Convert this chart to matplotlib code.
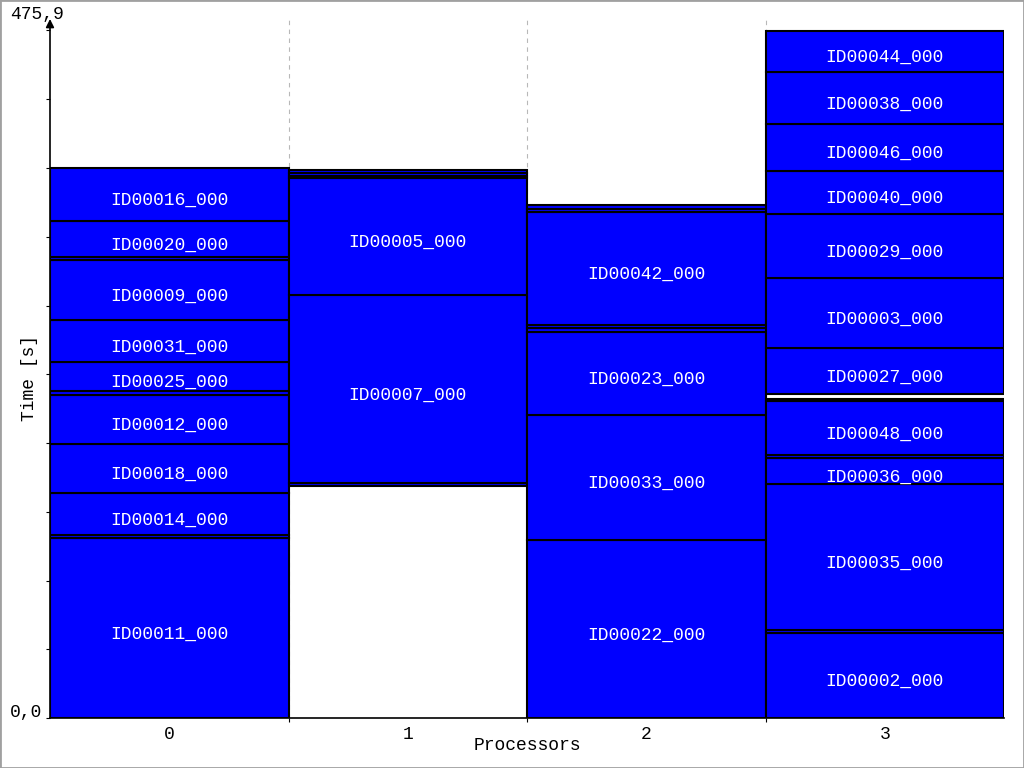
import matplotlib
matplotlib.use("Agg")
import matplotlib.pyplot as plt
from matplotlib.patches import Rectangle

T_MAX = 475.9

# task blocks per processor: label, start [s], end [s]  ("" = tiny unlabeled task)
proc0_labels = ["ID00011_000", "", "ID00014_000", "ID00018_000", "ID00012_000", "",
                "ID00025_000", "ID00031_000", "ID00009_000", "", "ID00020_000", "ID00016_000"]
proc0_starts = [0.0, 124.6, 127.0, 155.8, 189.7, 223.6, 226.4, 246.4, 275.5, 317.0, 319.1, 344.0]
proc0_ends = [124.6, 127.0, 155.8, 189.7, 223.6, 226.4, 246.4, 275.5, 317.0, 319.1, 344.0, 380.7]

proc1_labels = ["", "ID00007_000", "ID00005_000", "", "", ""]
proc1_starts = [160.6, 162.7, 292.8, 373.8, 375.2, 377.3]
proc1_ends = [162.7, 292.8, 373.8, 375.2, 377.3, 379.3]

proc2_labels = ["ID00022_000", "ID00033_000", "ID00023_000", "", "", "ID00042_000", "", ""]
proc2_starts = [0.0, 123.2, 209.8, 267.2, 270.0, 272.0, 350.3, 352.3]
proc2_ends = [123.2, 209.8, 267.2, 270.0, 272.0, 350.3, 352.3, 355.1]

proc3_labels = ["ID00002_000", "", "ID00035_000", "ID00036_000", "", "ID00048_000", "",
                "ID00027_000", "ID00003_000", "ID00029_000", "ID00040_000", "ID00046_000",
                "ID00038_000", "ID00044_000"]
proc3_starts = [0.0, 58.8, 60.9, 162.0, 180.0, 182.1, 219.4, 224.3, 256.1, 304.6, 348.9,
                378.7, 411.2, 447.2]
proc3_ends = [58.8, 60.9, 162.0, 180.0, 182.1, 219.4, 220.8, 256.1, 304.6, 348.9, 378.7,
              411.2, 447.2, 475.9]

processors = [
    (proc0_labels, proc0_starts, proc0_ends),
    (proc1_labels, proc1_starts, proc1_ends),
    (proc2_labels, proc2_starts, proc2_ends),
    (proc3_labels, proc3_starts, proc3_ends),
]
proc_names = ["0", "1", "2", "3"]

FONT = ["Liberation Mono", "DejaVu Sans Mono"]
FS = 13


def main() -> None:
    plt.rcParams["font.family"] = FONT
    fig = plt.figure(figsize=(10.24, 7.68), dpi=100)
    ax = fig.add_axes([50 / 1024, 50 / 768, 954 / 1024, 699 / 768])
    ax.set_xlim(0, len(processors))
    ax.set_ylim(0, T_MAX * 699 / 687.5)

    for p, (labels, starts, ends) in enumerate(processors):
        heights = [e - s for s, e in zip(starts, ends)]
        ax.bar([p + 0.5] * len(starts), heights, bottom=starts, width=1.0,
               color="#0000ff", edgecolor="black", linewidth=1.5, zorder=2)
        for lab, s, e in zip(labels, starts, ends):
            if lab:
                ax.annotate(lab, (p + 0.5, (s + e) / 2), xytext=(0, -4.5),
                            textcoords="offset points", ha="center", va="center",
                            color="white", fontsize=FS, zorder=3)

    # processor boundaries with dashed grid, labels centred in each column
    ax.set_xticks([1, 2, 3])
    ax.set_xticklabels([])
    ax.tick_params(axis="x", which="major", length=3, width=0.8)
    ax.set_xticks([p + 0.5 for p in range(len(processors))], minor=True)
    ax.set_xticklabels(proc_names, minor=True, fontsize=FS)
    ax.tick_params(axis="x", which="minor", length=0, pad=6)
    ax.grid(axis="x", which="major", color="#b8b8b8", linestyle=(0, (4, 4)), linewidth=0.8, zorder=1)

    ax.set_yticks([T_MAX * k / 10 for k in range(11)])
    ax.set_yticklabels([])
    ax.tick_params(axis="y", length=3, width=0.8)

    for side in ("top", "right", "left"):
        ax.spines[side].set_visible(False)
    ax.spines["bottom"].set_linewidth(1.2)
    ax.annotate("", xy=(0, 1), xytext=(0, 0), xycoords="axes fraction",
                arrowprops=dict(arrowstyle="-|>", color="black", lw=1.2,
                                mutation_scale=12, shrinkA=0, shrinkB=0),
                annotation_clip=False, zorder=5)

    fig.text(37 / 1024, 1 - 14 / 768, "475,9", ha="center", va="center", fontsize=FS)
    fig.text(42 / 1024, 1 - 712 / 768, "0,0", ha="right", va="center", fontsize=FS)
    fig.text(30 / 1024, 1 - 378 / 768, "Time [s]", ha="center", va="center",
             rotation=90, fontsize=FS)
    fig.text(527 / 1024, 1 - 746 / 768, "Processors", ha="center", va="center", fontsize=FS)

    fig.patches.append(Rectangle((0, 0), 1, 1, transform=fig.transFigure, fill=False,
                                 edgecolor="#a0a0a0", linewidth=2))
    fig.savefig("out.png", dpi=100)


if __name__ == "__main__":
    main()
